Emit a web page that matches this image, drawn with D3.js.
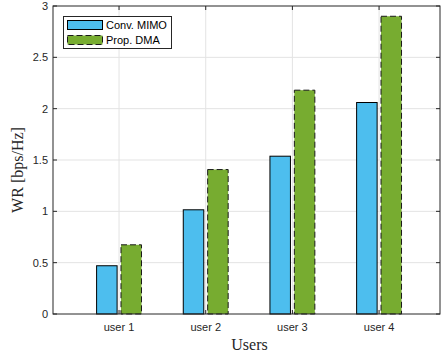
<!DOCTYPE html>
<html><head><meta charset="utf-8">
<script src="https://cdn.jsdelivr.net/npm/d3@7"></script>
<style>body{margin:0;background:#fff}svg{display:block}</style>
</head><body>
<svg id="c" width="441" height="358"></svg>
<script>
const categories = ["user 1", "user 2", "user 3", "user 4"];
const seriesNames = ["Conv. MIMO", "Prop. DMA"];
const convMIMO = [0.47, 1.015, 1.537, 2.06];
const propDMA = [0.674, 1.407, 2.18, 2.90];
const yTicks = [0, 0.5, 1, 1.5, 2, 2.5, 3];
const yTickLabels = ["0", "0.5", "1", "1.5", "2", "2.5", "3"];

const svg = d3.select("#c");
const L = 53, R = 440, T = 6, B = 314;
const axisColor = "#262626";
const x = d3.scaleLinear().domain([0.238, 4.703]).range([L, R]);
const y = d3.scaleLinear().domain([0, 3]).range([B, T]);
const barW = 20.5, off = 12.2;

// grid
const g = svg.append("g");
g.selectAll(".gy").data(yTicks.slice(1, -1)).enter().append("line")
  .attr("x1", L).attr("x2", R).attr("y1", d => y(d)).attr("y2", d => y(d))
  .attr("stroke", "#e3e3e3").attr("stroke-width", 1);
g.selectAll(".gx").data(categories).enter().append("line")
  .attr("x1", (d, i) => x(i + 1)).attr("x2", (d, i) => x(i + 1))
  .attr("y1", T).attr("y2", B)
  .attr("stroke", "#e3e3e3").attr("stroke-width", 1);

// bars
svg.selectAll(".b1").data(convMIMO).enter().append("rect")
  .attr("x", (d, i) => x(i + 1) - off - barW / 2).attr("width", barW)
  .attr("y", d => y(d)).attr("height", d => B - y(d))
  .attr("fill", "#4dbeee").attr("stroke", "#000").attr("stroke-width", 1);
svg.selectAll(".b2").data(propDMA).enter().append("rect")
  .attr("x", (d, i) => x(i + 1) + off - barW / 2).attr("width", barW)
  .attr("y", d => y(d)).attr("height", d => B - y(d))
  .attr("fill", "#77ac30").attr("stroke", "#1a1a1a").attr("stroke-width", 1)
  .attr("stroke-dasharray", "6,3");

// axes box
const ax = svg.append("g").attr("stroke", axisColor).attr("fill", "none");
ax.append("rect").attr("x", L).attr("y", T).attr("width", R - L).attr("height", B - T).attr("stroke-width", 1);

// y ticks
svg.selectAll(".ty").data(yTicks).enter().append("path")
  .attr("d", d => `M${L},${y(d)}h4M${R},${y(d)}h-4`).attr("stroke", axisColor);
svg.selectAll(".tyl").data(yTicks).enter().append("text")
  .attr("x", L - 5).attr("y", d => y(d) + 4).attr("text-anchor", "end")
  .attr("font-family", "Liberation Sans, Arial, sans-serif").attr("font-size", 11)
  .attr("fill", axisColor).text((d, i) => yTickLabels[i]);

// x ticks
svg.selectAll(".tx").data(categories).enter().append("path")
  .attr("d", (d, i) => `M${x(i + 1)},${B}v-4M${x(i + 1)},${T}v4`).attr("stroke", axisColor);
svg.selectAll(".txl").data(categories).enter().append("text")
  .attr("x", (d, i) => x(i + 1)).attr("y", B + 17).attr("text-anchor", "middle")
  .attr("font-family", "Liberation Sans, Arial, sans-serif").attr("font-size", 11)
  .attr("fill", axisColor).text(d => d);

// labels
svg.append("text").attr("x", (L + R) / 2 + 3).attr("y", 350).attr("text-anchor", "middle")
  .attr("font-family", "Liberation Serif, serif").attr("font-size", 16).attr("fill", axisColor).text("Users");
svg.append("text").attr("transform", `translate(23,170) rotate(-90)`).attr("text-anchor", "middle")
  .attr("font-family", "Liberation Serif, serif").attr("font-size", 16).attr("fill", axisColor).text("WR [bps/Hz]");

// legend
const lg = svg.append("g");
lg.append("rect").attr("x", 63.5).attr("y", 16.5).attr("width", 108).attr("height", 32)
  .attr("fill", "#fff").attr("stroke", axisColor).attr("stroke-width", 1);
const colors = ["#4dbeee", "#77ac30"];
seriesNames.forEach((n, i) => {
  lg.append("rect").attr("x", 67.5).attr("y", 20.5 + i * 15).attr("width", 35).attr("height", 9)
    .attr("fill", colors[i]).attr("stroke", i ? "#1a1a1a" : "#000")
    .attr("stroke-dasharray", i ? "6,3" : null);
  lg.append("text").attr("x", 106).attr("y", 29 + i * 15)
    .attr("font-family", "Liberation Sans, Arial, sans-serif").attr("font-size", 11)
    .attr("fill", "#000").text(n);
});
</script>
</body></html>
